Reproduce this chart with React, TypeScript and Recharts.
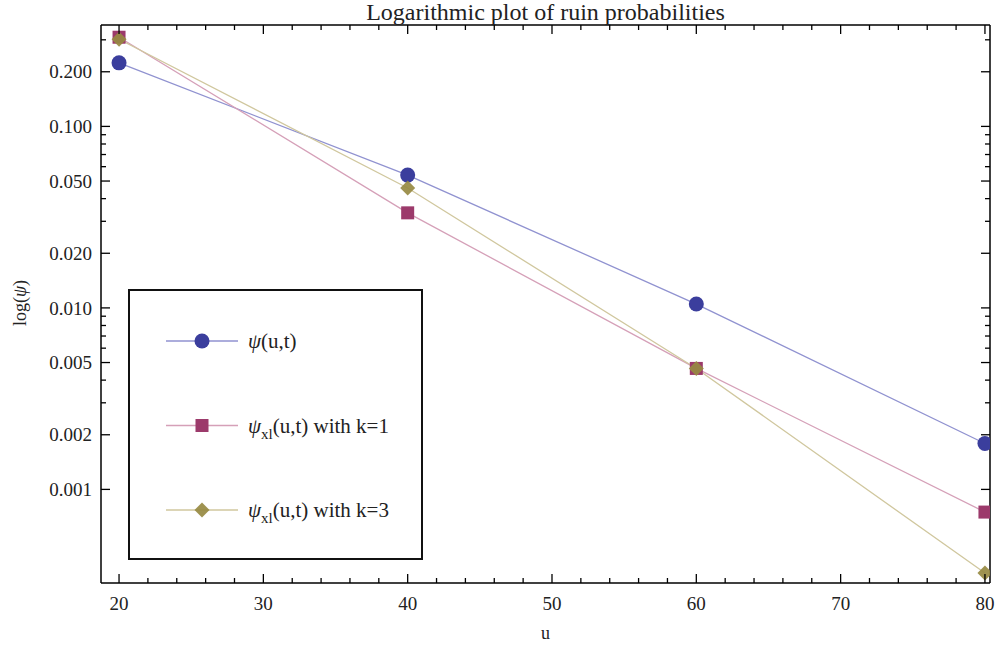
import React from 'react';
import { LineChart, Line, XAxis, YAxis, Legend } from 'recharts';

// values (log scale)
const uValues = [20, 40, 60, 80];
const psiValues = [0.224, 0.0539, 0.0105, 0.00179];
const psiK1Values = [0.31, 0.0334, 0.00464, 0.00075];
const psiK3Values = [0.302, 0.0458, 0.00464, 0.000346];

const xMajorTicks = [20, 30, 40, 50, 60, 70, 80];
const xMinorTicks = [22, 24, 26, 28, 32, 34, 36, 38, 42, 44, 46, 48, 52, 54, 56, 58, 62, 64, 66, 68, 72, 74, 76, 78];
const yMajorTicks = [0.001, 0.002, 0.005, 0.01, 0.02, 0.05, 0.1, 0.2];
const yMinorTicks = [0.003, 0.004, 0.006, 0.007, 0.008, 0.009, 0.03, 0.04, 0.06, 0.07, 0.08, 0.09, 0.3];

const legendLabels = [
  { sub: '', rest: '(u,t)' },
  { sub: 'xl', rest: '(u,t) with k=1' },
  { sub: 'xl', rest: '(u,t) with k=3' },
];

const data = uValues.map((u, i) => ({
  u,
  psi: psiValues[i],
  psiK1: psiK1Values[i],
  psiK3: psiK3Values[i],
}));

const FONT = '"Liberation Serif", "Times New Roman", serif';
const BLUE = '#3b3e9d';
const MAGENTA = '#9c3a6b';
const OLIVE = '#978a42';
const BLUE_LINE = '#9092d0';
const MAGENTA_LINE = '#d5a0b8';
const OLIVE_LINE = '#d0c79e';

const xDomain = [18.75, 80.35];
const yDomain = [0.000305, 0.362];

const makeTick = (side: 'left' | 'right' | 'top' | 'bottom', majors: number[], showLabel: boolean, fmt: (v: number) => string) =>
  (props: any) => {
    const { x, y, payload } = props;
    const v = payload.value;
    const major = majors.includes(v);
    const len = major ? 9 : 5;
    let line;
    if (side === 'left') line = <line x1={x} y1={y} x2={x + len} y2={y} stroke="#000" strokeWidth={1.3} />;
    else if (side === 'right') line = <line x1={x} y1={y} x2={x - len} y2={y} stroke="#000" strokeWidth={1.3} />;
    else if (side === 'top') line = <line x1={x} y1={y} x2={x} y2={y + len} stroke="#000" strokeWidth={1.3} />;
    else line = <line x1={x} y1={y} x2={x} y2={y - len} stroke="#000" strokeWidth={1.3} />;
    return (
      <g>
        {line}
        {showLabel && major && side === 'left' && (
          <text x={x - 9} y={y} dy="0.35em" textAnchor="end" fontFamily={FONT} fontSize={19} fill="#222">
            {fmt(v)}
          </text>
        )}
        {showLabel && major && side === 'bottom' && (
          <text x={x} y={y + 27} textAnchor="middle" fontFamily={FONT} fontSize={19} fill="#222">
            {fmt(v)}
          </text>
        )}
      </g>
    );
  };

const CircleDot = (props: any) => {
  const { cx, cy, index } = props;
  return <circle key={`c-${index}`} cx={cx} cy={cy} r={7.5} fill={BLUE} />;
};

const SquareDot = (props: any) => {
  const { cx, cy, index } = props;
  return <rect key={`s-${index}`} x={cx - 6.5} y={cy - 6.5} width={13} height={13} fill={MAGENTA} />;
};

const DiamondDot = (props: any) => {
  const { cx, cy, index } = props;
  const r = 7.5;
  return (
    <polygon
      key={`d-${index}`}
      points={`${cx},${cy - r} ${cx + r},${cy} ${cx},${cy + r} ${cx - r},${cy}`}
      fill={OLIVE}
      fillOpacity={0.92}
    />
  );
};

const markerFor = (i: number, cx: number, cy: number) => {
  if (i === 0) return <CircleDot cx={cx} cy={cy} index={0} />;
  if (i === 1) return <SquareDot cx={cx} cy={cy} index={0} />;
  return <DiamondDot cx={cx} cy={cy} index={0} />;
};

const lineColors = [BLUE_LINE, MAGENTA_LINE, OLIVE_LINE];

const renderLegend = () => (
  <svg width={291} height={267} style={{ display: 'block' }}>
    {legendLabels.map((item, i) => {
      const cy = 50 + i * 84.5;
      return (
        <g key={i}>
          <line x1={36} y1={cy} x2={108} y2={cy} stroke={lineColors[i]} strokeWidth={1.4} />
          {markerFor(i, 72, cy)}
          <text x={118} y={cy} dy="0.35em" fontFamily={FONT} fontSize={21} fill="#222">
            <tspan fontStyle="italic">ψ</tspan>
            {item.sub && (
              <tspan fontSize={15} dy={6}>
                {item.sub}
              </tspan>
            )}
            <tspan dy={item.sub ? -6 : 0}>{item.rest}</tspan>
          </text>
        </g>
      );
    })}
  </svg>
);

const renderYLabel = () => (
  <text
    x={20}
    y={303}
    transform="rotate(-90 20 303)"
    textAnchor="middle"
    dy="0.35em"
    fontFamily={FONT}
    fontSize={18}
    fill="#222"
  >
    log(<tspan fontStyle="italic">ψ</tspan>)
  </text>
);

const fmtY = (v: number) => v.toFixed(3);
const fmtX = (v: number) => String(v);

const App: React.FC = () => {
  return (
    <div style={{ position: 'absolute', left: 0, top: 0, width: 996, height: 651, background: '#fff' }}>
      <div
        style={{
          position: 'absolute',
          left: 101,
          width: 889,
          top: 0,
          textAlign: 'center',
          fontFamily: FONT,
          fontSize: 24,
          lineHeight: '24px',
          color: '#222',
          zIndex: 2,
        }}
      >
        Logarithmic plot of ruin probabilities
      </div>
      <LineChart width={996} height={651} data={data} margin={{ top: 20, right: 0, bottom: 0, left: 41 }}>
        <XAxis
          xAxisId="top"
          orientation="top"
          dataKey="u"
          type="number"
          domain={xDomain}
          allowDataOverflow
          ticks={[...xMajorTicks, ...xMinorTicks]}
          interval={0}
          height={5}
          tickSize={0}
          tickMargin={0}
          tickLine={false}
          axisLine={{ stroke: '#000', strokeWidth: 1.5 }}
          tick={makeTick('top', xMajorTicks, false, fmtX)}
        />
        <XAxis
          dataKey="u"
          type="number"
          domain={xDomain}
          allowDataOverflow
          ticks={[...xMajorTicks, ...xMinorTicks]}
          interval={0}
          height={68}
          tickSize={0}
          tickMargin={0}
          tickLine={false}
          axisLine={{ stroke: '#000', strokeWidth: 1.5 }}
          tick={makeTick('bottom', xMajorTicks, true, fmtX)}
          label={{ value: 'u', position: 'insideBottom', offset: 12, fontFamily: FONT, fontSize: 18, fill: '#222' }}
        />
        <YAxis
          scale="log"
          type="number"
          domain={yDomain}
          allowDataOverflow
          ticks={[...yMajorTicks, ...yMinorTicks]}
          interval={0}
          width={60}
          tickSize={0}
          tickMargin={0}
          tickLine={false}
          axisLine={{ stroke: '#000', strokeWidth: 1.5 }}
          tick={makeTick('left', yMajorTicks, true, fmtY)}
          label={{ content: renderYLabel }}
        />
        <YAxis
          yAxisId="right"
          orientation="right"
          scale="log"
          type="number"
          domain={yDomain}
          allowDataOverflow
          ticks={[...yMajorTicks, ...yMinorTicks]}
          interval={0}
          width={6}
          tickSize={0}
          tickMargin={0}
          tickLine={false}
          axisLine={{ stroke: '#000', strokeWidth: 1.5 }}
          tick={makeTick('right', yMajorTicks, false, fmtY)}
        />
        <Legend
          layout="vertical"
          align="center"
          verticalAlign="middle"
          content={renderLegend}
          wrapperStyle={{
            left: 128,
            top: 289,
            width: 295,
            height: 271,
            border: '2px solid #111',
            boxSizing: 'border-box',
            background: '#fff',
          }}
        />
        <Line dataKey="psi" stroke={BLUE_LINE} strokeWidth={1.3} dot={CircleDot} activeDot={false} isAnimationActive={false} />
        <Line dataKey="psiK1" stroke={MAGENTA_LINE} strokeWidth={1.3} dot={SquareDot} activeDot={false} isAnimationActive={false} />
        <Line dataKey="psiK3" stroke={OLIVE_LINE} strokeWidth={1.3} dot={DiamondDot} activeDot={false} isAnimationActive={false} />
      </LineChart>
    </div>
  );
};

export default App;
